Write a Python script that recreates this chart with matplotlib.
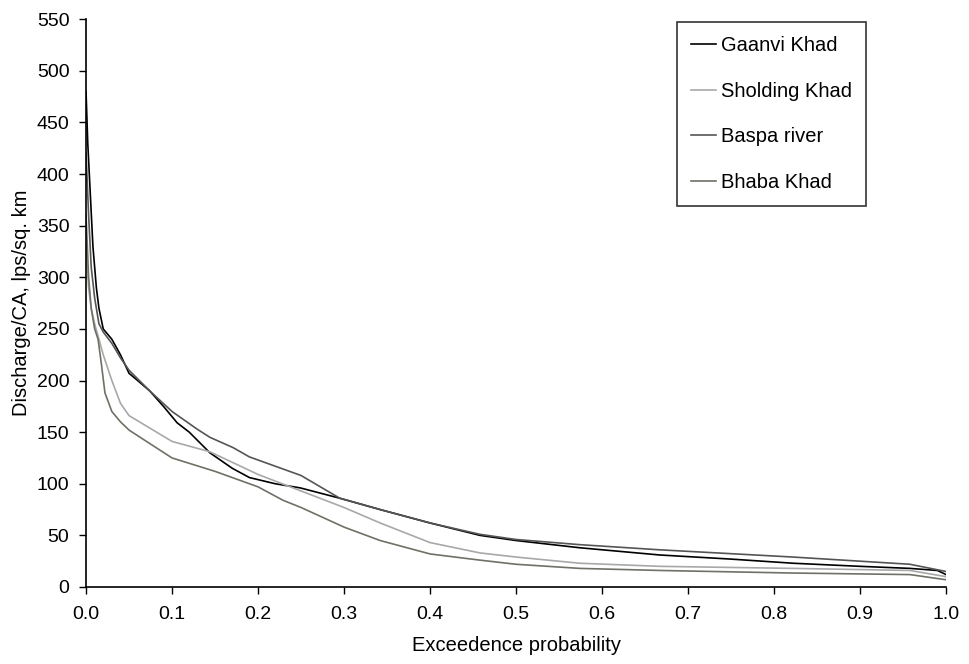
import matplotlib
matplotlib.use("Agg")
import matplotlib.pyplot as plt
import numpy as np

plt.rcParams['font.family'] = ['Liberation Sans', 'DejaVu Sans']

# exceedence probability / discharge per catchment area (lps/sq. km)
p_gaanvi = [0.0, 0.002, 0.005, 0.008, 0.012, 0.015, 0.02, 0.03, 0.04, 0.05, 0.06, 0.074,
            0.09, 0.106, 0.12, 0.144, 0.17, 0.19, 0.22, 0.249, 0.295, 0.342, 0.4, 0.458,
            0.5, 0.574, 0.667, 0.75, 0.822, 0.9, 0.958, 0.99, 1.0]
q_gaanvi = [480, 430, 380, 330, 290, 270, 250, 240, 225, 207, 200, 190,
            175, 159, 150, 130, 115, 106, 100, 96, 86, 75, 62, 50,
            45, 38, 31, 27, 23, 20, 18, 16, 12]

p_sholding = [0.0, 0.003, 0.006, 0.01, 0.015, 0.02, 0.03, 0.04, 0.05, 0.074, 0.1, 0.144,
              0.2, 0.25, 0.3, 0.342, 0.4, 0.458, 0.5, 0.574, 0.667, 0.822, 0.958, 1.0]
q_sholding = [330, 290, 270, 255, 240, 225, 200, 178, 166, 154, 141, 131,
              109, 93, 77, 62, 43, 33, 29, 23, 20, 18, 16, 10]

p_baspa = [0.0, 0.003, 0.006, 0.01, 0.015, 0.02, 0.03, 0.04, 0.05, 0.074, 0.1, 0.129,
           0.144, 0.171, 0.19, 0.25, 0.295, 0.342, 0.4, 0.458, 0.5, 0.574, 0.667,
           0.822, 0.958, 1.0]
q_baspa = [420, 360, 310, 280, 255, 247, 236, 222, 210, 190, 170, 153,
           145, 135, 126, 108, 86, 75, 62, 51, 46, 41, 36,
           29, 22, 15]

p_bhaba = [0.0, 0.003, 0.006, 0.01, 0.014, 0.018, 0.022, 0.03, 0.04, 0.05, 0.074, 0.1,
           0.15, 0.2, 0.229, 0.25, 0.3, 0.342, 0.4, 0.458, 0.5, 0.574, 0.667, 0.822,
           0.958, 1.0]
q_bhaba = [360, 300, 270, 250, 240, 215, 188, 170, 160, 152, 139, 125,
           112, 97, 84, 77, 58, 45, 32, 26, 22, 18, 16, 13.5,
           12, 7]

fig = plt.figure(figsize=(9.7, 6.64), dpi=100)
ax = fig.add_axes([0.0887, 0.116, 0.8866, 0.855])

ax.plot(p_gaanvi, q_gaanvi, color='#000000', lw=1.2, label='Gaanvi Khad')
ax.plot(p_sholding, q_sholding, color='#a8a8a8', lw=1.2, label='Sholding Khad')
ax.plot(p_baspa, q_baspa, color='#555555', lw=1.2, label='Baspa river')
ax.plot(p_bhaba, q_bhaba, color='#707066', lw=1.2, label='Bhaba Khad')

ax.set_xlim(0, 1.0)
ax.set_ylim(0, 550)
ax.set_xticks(np.arange(0, 1.01, 0.1))
ax.set_xticklabels([f'{v:.1f}' for v in np.arange(0, 1.01, 0.1)])
ax.set_yticks(np.arange(0, 551, 50))
ax.tick_params(direction='out', length=5, width=1, labelsize=14, pad=7)
ax.tick_params(axis='x', pad=9)

for s in ['top', 'right']:
    ax.spines[s].set_visible(False)
for s in ['left', 'bottom']:
    ax.spines[s].set_linewidth(1.2)

ax.set_xlabel('Exceedence probability', fontsize=14.5, labelpad=9)
ax.set_ylabel('Discharge/CA, lps/sq. km', fontsize=14.5, labelpad=4)

leg = ax.legend(loc='upper left', bbox_to_anchor=(677 / 970, 1 - 22 / 664),
                bbox_transform=fig.transFigure, fontsize=14.5,
                frameon=True, fancybox=False, edgecolor='black', handlelength=1.25,
                handletextpad=0.25, labelspacing=1.32, borderpad=0.7, borderaxespad=0)
leg.get_frame().set_linewidth(1.2)

fig.savefig('out.png', dpi=100)
